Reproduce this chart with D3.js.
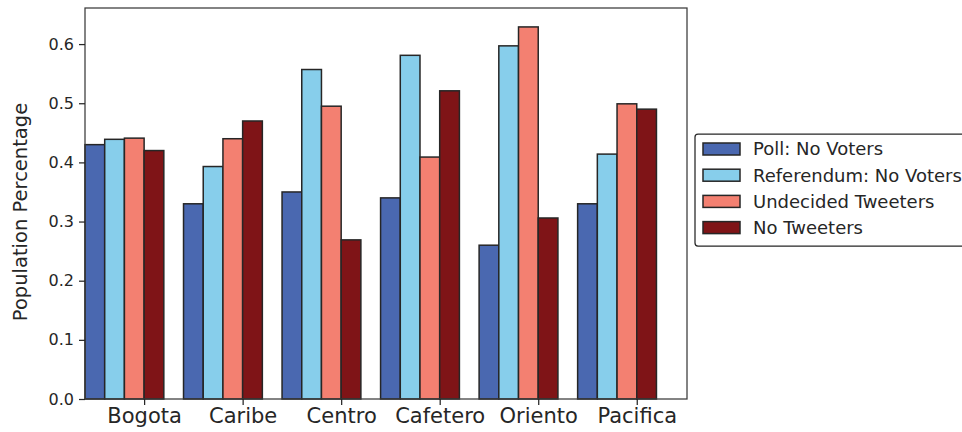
<!DOCTYPE html>
<html>
<head>
<meta charset="utf-8">
<script src="https://cdn.jsdelivr.net/npm/d3@7/dist/d3.min.js"></script>
<style>
  body { margin: 0; background: #fff; }
  text { font-family: "DejaVu Sans", sans-serif; fill: #262626; }
</style>
</head>
<body>
<svg width="962" height="432"></svg>
<script>
let regions = ["Bogota", "Caribe", "Centro", "Cafetero", "Oriento", "Pacifica"];
let seriesNames = ["Poll: No Voters", "Referendum: No Voters", "Undecided Tweeters", "No Tweeters"];
let pollNo = [0.43, 0.33, 0.35, 0.34, 0.26, 0.33];
let referendumNo = [0.439, 0.393, 0.557, 0.581, 0.597, 0.414];
let undecidedTweeters = [0.441, 0.44, 0.495, 0.409, 0.629, 0.499];
let noTweeters = [0.42, 0.47, 0.269, 0.521, 0.306, 0.49];
let yTicks = [0.0, 0.1, 0.2, 0.3, 0.4, 0.5, 0.6];
let colors = ["#4a68b0", "#87ceeb", "#f38071", "#7f1417"];

let series = [pollNo, referendumNo, undecidedTweeters, noTweeters];

var svg = d3.select("svg");
var plotLeft = 85, plotRight = 687, plotTop = 8, plotBottom = 399;
var barW = 0.2;

var x = d3.scaleLinear().domain([-0.6, 5.51]).range([plotLeft, plotRight]);
var y = d3.scaleLinear().domain([0, 0.661]).range([plotBottom, plotTop]);

var g = svg.append("g");

// bars
series.forEach(function (vals, i) {
    g.append("g")
        .selectAll("rect")
        .data(vals)
        .enter().append("rect")
        .attr("x", (d, k) => x(k + (i - 3) * barW))
        .attr("width", x(barW) - x(0))
        .attr("y", d => y(d))
        .attr("height", d => y(0) - y(d))
        .attr("fill", colors[i])
        .attr("stroke", "#262626")
        .attr("stroke-width", 1.5);
});

// frame
g.append("rect")
    .attr("x", plotLeft).attr("y", plotTop)
    .attr("width", plotRight - plotLeft).attr("height", plotBottom - plotTop)
    .attr("fill", "none")
    .attr("stroke", "#3a3a3a")
    .attr("stroke-width", 1.25);

// y axis
var yAxis = svg.append("g")
    .attr("transform", "translate(" + plotLeft + ",0)")
    .call(d3.axisLeft(y).tickValues(yTicks).tickFormat(d3.format(".1f")).tickSize(6).tickPadding(5));
yAxis.select(".domain").remove();
yAxis.selectAll("line").attr("stroke", "#262626").attr("stroke-width", 1.25);
yAxis.selectAll("text").style("font-size", "16px").attr("fill", "#262626");

// x axis
var xAxis = svg.append("g")
    .attr("transform", "translate(0," + plotBottom + ")")
    .call(d3.axisBottom(x).tickValues(d3.range(regions.length)).tickFormat(k => regions[k]).tickSize(6).tickPadding(3));
xAxis.select(".domain").remove();
xAxis.selectAll("line").attr("stroke", "#262626").attr("stroke-width", 1.25);
xAxis.selectAll("text").style("font-size", "21px").attr("fill", "#262626");

// y label
svg.append("text")
    .attr("transform", "translate(27,212) rotate(-90)")
    .attr("text-anchor", "middle")
    .style("font-size", "19.5px")
    .text("Population Percentage");

// legend
var lg = svg.append("g").attr("transform", "translate(695,134)");
lg.append("rect")
    .attr("x", 0).attr("y", 0)
    .attr("width", 300).attr("height", 112)
    .attr("rx", 3)
    .attr("fill", "#fff")
    .attr("stroke", "#262626")
    .attr("stroke-width", 1.25);
var items = lg.selectAll("g.item")
    .data(seriesNames)
    .enter().append("g")
    .attr("class", "item")
    .attr("transform", (d, i) => "translate(0," + (15 + i * 26.2) + ")");
items.append("rect")
    .attr("x", 8).attr("y", -6)
    .attr("width", 37).attr("height", 12)
    .attr("fill", (d, i) => colors[i])
    .attr("stroke", "#262626")
    .attr("stroke-width", 1.5);
items.append("text")
    .attr("x", 58).attr("y", 0)
    .attr("dy", "0.36em")
    .style("font-size", "18px")
    .text(d => d);
</script>
</body>
</html>
